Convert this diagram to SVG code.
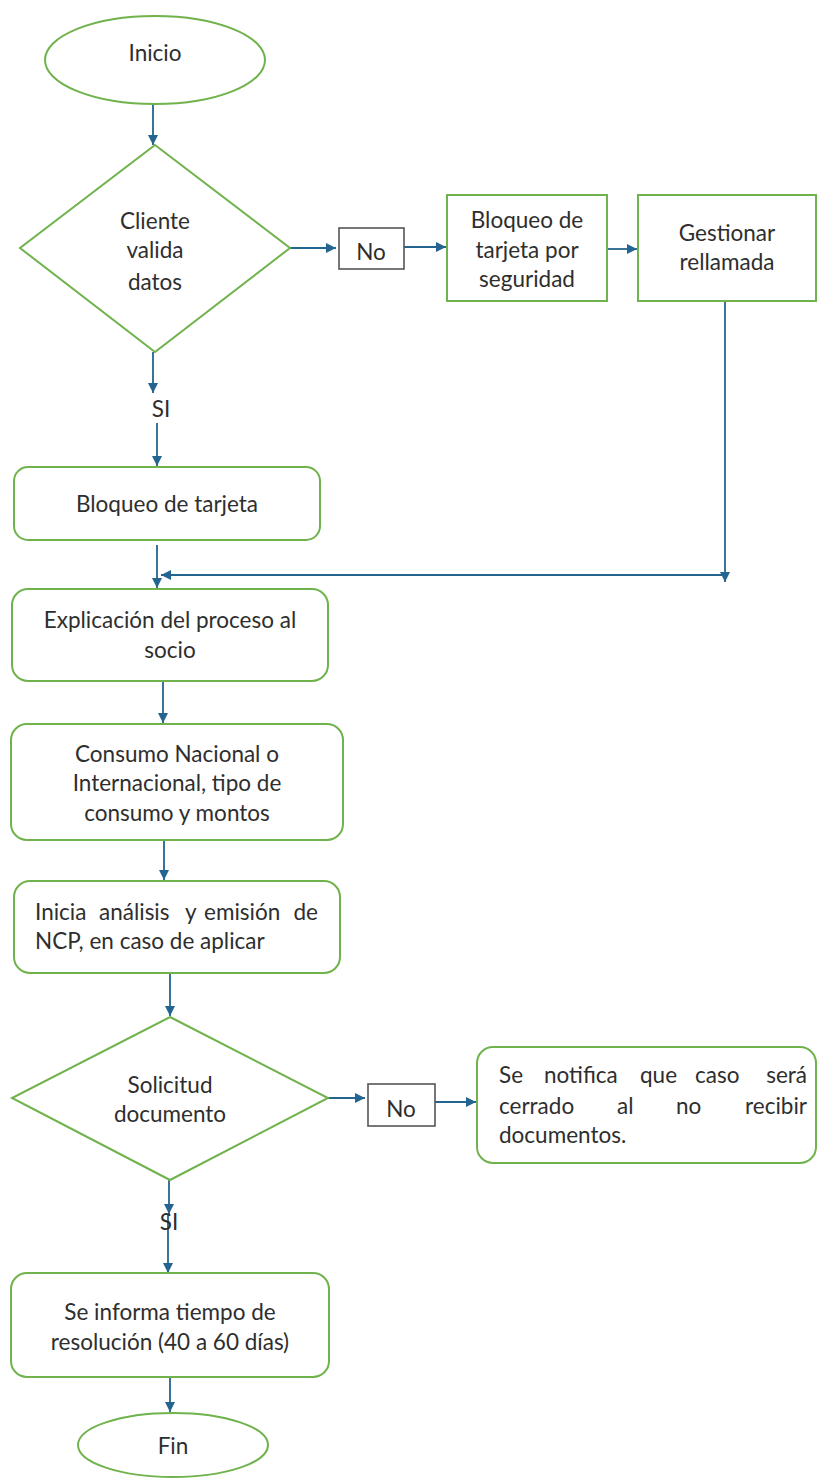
<svg xmlns="http://www.w3.org/2000/svg" width="817" height="1479" viewBox="0 0 817 1479">
<style>
.g{fill:#fff;stroke:#70b24c;stroke-width:2}
.nb{fill:#fff;stroke:#555;stroke-width:1.6}
.t{font-family:Lato,"Open Sans",sans-serif;font-size:22.5px;fill:#2e2e2e}
.m{text-anchor:middle}
.c{fill:none;stroke:#236590;stroke-width:1.8}
</style>
<defs>
<marker id="a" viewBox="0 0 10 10" refX="10" refY="5" markerWidth="10" markerHeight="10" markerUnits="userSpaceOnUse" orient="auto">
<path d="M0,0 L10,5 L0,10 z" fill="#236590"/>
</marker>
</defs>
<rect width="817" height="1479" fill="#fff"/>
<g id="connectors">
<line class="c" x1="153" y1="104" x2="153" y2="145" marker-end="url(#a)"/>
<line class="c" x1="290" y1="248" x2="336" y2="248" marker-end="url(#a)"/>
<line class="c" x1="404" y1="247" x2="446" y2="247" marker-end="url(#a)"/>
<line class="c" x1="607" y1="249" x2="637" y2="249" marker-end="url(#a)"/>
<line class="c" x1="725" y1="296" x2="725" y2="582" marker-end="url(#a)"/>
<line class="c" x1="725" y1="575" x2="161" y2="575" marker-end="url(#a)"/>
<line class="c" x1="153" y1="352" x2="153" y2="393" marker-end="url(#a)"/>
<line class="c" x1="157" y1="423" x2="157" y2="466" marker-end="url(#a)"/>
<line class="c" x1="157" y1="545" x2="157" y2="588" marker-end="url(#a)"/>
<line class="c" x1="163" y1="681" x2="163" y2="723" marker-end="url(#a)"/>
<line class="c" x1="164" y1="840" x2="164" y2="880" marker-end="url(#a)"/>
<line class="c" x1="170" y1="973" x2="170" y2="1016" marker-end="url(#a)"/>
<line class="c" x1="327" y1="1098" x2="365" y2="1098" marker-end="url(#a)"/>
<line class="c" x1="435" y1="1102" x2="476" y2="1102" marker-end="url(#a)"/>
<line class="c" x1="169" y1="1180" x2="169" y2="1214" marker-end="url(#a)"/>
<line class="c" x1="168" y1="1214" x2="168" y2="1273" marker-end="url(#a)"/>
<line class="c" x1="170" y1="1368" x2="170" y2="1412" marker-end="url(#a)"/>
</g>
<g id="inicio">
<ellipse class="g" cx="155" cy="60" rx="110" ry="44"/>
<text class="t m" x="155" y="61">Inicio</text>
</g>
<g id="cliente-valida">
<polygon class="g" points="155,145 290,248 155,352 20,248"/>
<text class="t m" x="155" y="229">Cliente</text>
<text class="t m" x="155" y="258">valida</text>
<text class="t m" x="155" y="290">datos</text>
</g>
<g id="no1">
<rect class="nb" x="339" y="228" width="65" height="41"/>
<text class="t m" x="371" y="260">No</text>
</g>
<g id="bloqueo-seguridad">
<rect class="g" x="447" y="195" width="160" height="106"/>
<text class="t m" x="527" y="228">Bloqueo de</text>
<text class="t m" x="527" y="258">tarjeta por</text>
<text class="t m" x="527" y="287">seguridad</text>
</g>
<g id="gestionar">
<rect class="g" x="638" y="195" width="178" height="106"/>
<text class="t m" x="727" y="241">Gestionar</text>
<text class="t m" x="727" y="270">rellamada</text>
</g>
<g id="si1">
<text class="t m" x="161" y="417">SI</text>
</g>
<g id="bloqueo-tarjeta">
<rect class="g" x="14" y="467" width="306" height="73" rx="14"/>
<text class="t m" x="167" y="512">Bloqueo de tarjeta</text>
</g>
<g id="explicacion">
<rect class="g" x="12" y="589" width="316" height="92" rx="16"/>
<text class="t m" x="170" y="628">Explicación del proceso al</text>
<text class="t m" x="170" y="658">socio</text>
</g>
<g id="consumo">
<rect class="g" x="11" y="724" width="332" height="116" rx="16"/>
<text class="t m" x="177" y="762">Consumo Nacional o</text>
<text class="t m" x="177" y="791">Internacional, tipo de</text>
<text class="t m" x="177" y="821">consumo y montos</text>
</g>
<g id="inicia-analisis">
<rect class="g" x="14" y="881" width="326" height="92" rx="16"/>
<text class="t" y="920"><tspan x="35">Inicia</tspan><tspan x="99">análisis</tspan><tspan x="185">y</tspan><tspan x="204">emisión</tspan><tspan x="318" text-anchor="end">de</tspan></text>
<text class="t" x="35" y="949">NCP, en caso de aplicar</text>
</g>
<g id="solicitud">
<polygon class="g" points="170,1017 328,1098 170,1180 12,1098"/>
<text class="t m" x="170" y="1093">Solicitud</text>
<text class="t m" x="170" y="1122">documento</text>
</g>
<g id="no2">
<rect class="nb" x="368" y="1084" width="67" height="42"/>
<text class="t m" x="401" y="1117">No</text>
</g>
<g id="notifica">
<rect class="g" x="477" y="1047" width="339" height="116" rx="16"/>
<text class="t" y="1083"><tspan x="499">Se</tspan><tspan x="544">notifica</tspan><tspan x="640">que</tspan><tspan x="695">caso</tspan><tspan x="807" text-anchor="end">será</tspan></text>
<text class="t" y="1114"><tspan x="499">cerrado</tspan><tspan x="617">al</tspan><tspan x="676">no</tspan><tspan x="807" text-anchor="end">recibir</tspan></text>
<text class="t" x="499" y="1143">documentos.</text>
</g>
<g id="si2">
<text class="t m" x="169" y="1230">SI</text>
</g>
<g id="informa">
<rect class="g" x="11" y="1273" width="318" height="104" rx="16"/>
<text class="t m" x="170" y="1320">Se informa tiempo de</text>
<text class="t m" x="170" y="1350">resolución (40 a 60 días)</text>
</g>
<g id="fin">
<ellipse class="g" cx="173" cy="1445" rx="95" ry="32"/>
<text class="t m" x="173" y="1454">Fin</text>
</g>
</svg>
